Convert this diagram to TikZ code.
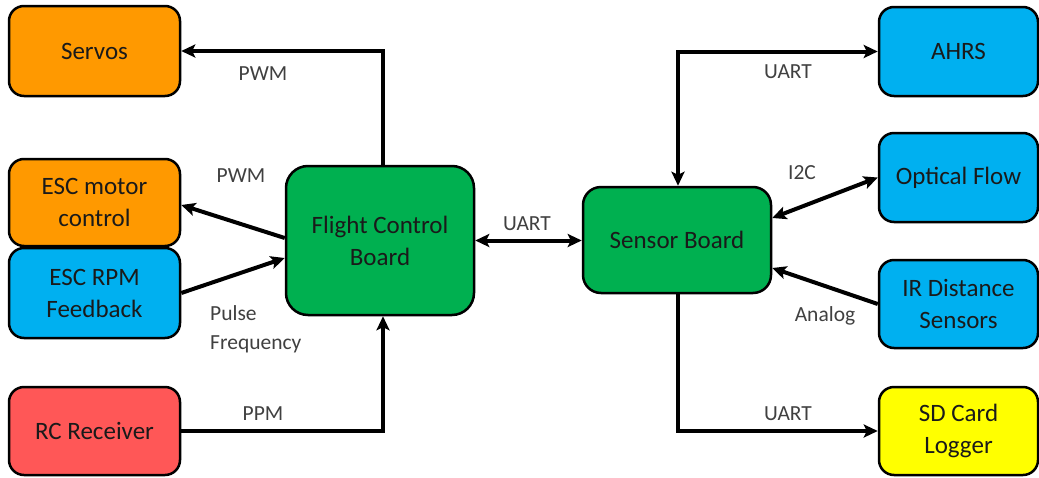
\documentclass[tikz,border=0pt]{standalone}
\usepackage{fontspec}
\setmainfont{Carlito}
\usetikzlibrary{arrows.meta}
\definecolor{corange}{HTML}{FF9900}
\definecolor{cblue}{HTML}{00B0F0}
\definecolor{cgreen}{HTML}{00B050}
\definecolor{cred}{HTML}{FF5757}
\definecolor{cyellow}{HTML}{FFFF00}
\definecolor{ctext}{HTML}{1A1A1A}
\definecolor{clabel}{HTML}{404040}
\tikzset{
  blk/.style={draw=black, line width=2.5pt, rounded corners=15pt, align=center,
    text=ctext, font=\fontsize{25}{32}\selectfont, inner sep=0pt},
  lbl/.style={text=clabel, font=\fontsize{21.5}{29}\selectfont, inner sep=0pt},
  arr/.style={line width=4pt, -{Stealth[length=14pt,width=13pt,inset=3pt]}},
  darr/.style={line width=4pt, {Stealth[length=14pt,width=13pt,inset=3pt]}-{Stealth[length=14pt,width=13pt,inset=3pt]}},
}
\begin{document}
\begin{tikzpicture}[x=1pt,y=-1pt]
\useasboundingbox (0,0) rectangle (1039,477);
% left column
\node[blk, fill=corange, minimum width=171pt, minimum height=90pt] (servos) at (94.5,51) {Servos};
\node[blk, fill=corange, minimum width=171pt, minimum height=87pt] (escm) at (94.5,202.5) {ESC motor\\control};
\node[blk, fill=cblue, minimum width=171pt, minimum height=90pt] (escr) at (94.5,293) {ESC RPM\\Feedback};
\node[blk, fill=cred, minimum width=171pt, minimum height=88pt] (rc) at (94.5,431) {RC Receiver};
% boards
\node[blk, fill=cgreen, rounded corners=22pt, minimum width=188pt, minimum height=149pt] (fcb) at (380,240.5) {Flight Control\\Board};
\node[blk, fill=cgreen, rounded corners=18pt, minimum width=188pt, minimum height=106pt] (sb) at (677,240) {Sensor Board};
% right column
\node[blk, fill=cblue, minimum width=159pt, minimum height=89pt] (ahrs) at (958.5,51.5) {AHRS};
\node[blk, fill=cblue, minimum width=159pt, minimum height=89pt] (of) at (958.5,177.5) {Optical Flow};
\node[blk, fill=cblue, minimum width=159pt, minimum height=88pt] (ir) at (958.5,304) {IR Distance\\Sensors};
\node[blk, fill=cyellow, minimum width=159pt, minimum height=88pt] (sd) at (958.5,431) {SD Card\\Logger};
% connectors
\draw[arr] ([xshift=3pt]fcb.north) |- (servos.east);
\draw[arr] ([yshift=2.5pt]fcb.west) -- ([yshift=-2.5pt]escm.east);
\draw[arr] (escr.east) -- ([yshift=-17.5pt]fcb.west);
\draw[arr] (rc.east) -| ([xshift=3pt]fcb.south);
\draw[darr] (fcb.east) -- (fcb.east -| sb.west);
\draw[darr] ([xshift=1pt]sb.north) |- (ahrs.west);
\draw[darr] ([yshift=22pt]sb.east) -- (of.west);
\draw[arr] (ir.west) -- ([yshift=-28pt]sb.east);
\draw[arr] ([xshift=1pt]sb.south) |- (sd.west);
% labels
\node[lbl] (l1) at (263,74) {PWM};
\node[lbl] (l2) at (241,176) {PWM};
\node[lbl, align=left, anchor=north west] (l3) at (210,305) {Pulse\\Frequency};
\node[lbl] (l4) at (263,414) {PPM};
\node[lbl] (l5) at (527,224) {UART};
\node[lbl] (l6) at (788,72) {UART};
\node[lbl] (l7) at (802,173) {I2C};
\node[lbl] (l8) at (825,316) {Analog};
\node[lbl] (l9) at (788,414) {UART};
\end{tikzpicture}
\end{document}
